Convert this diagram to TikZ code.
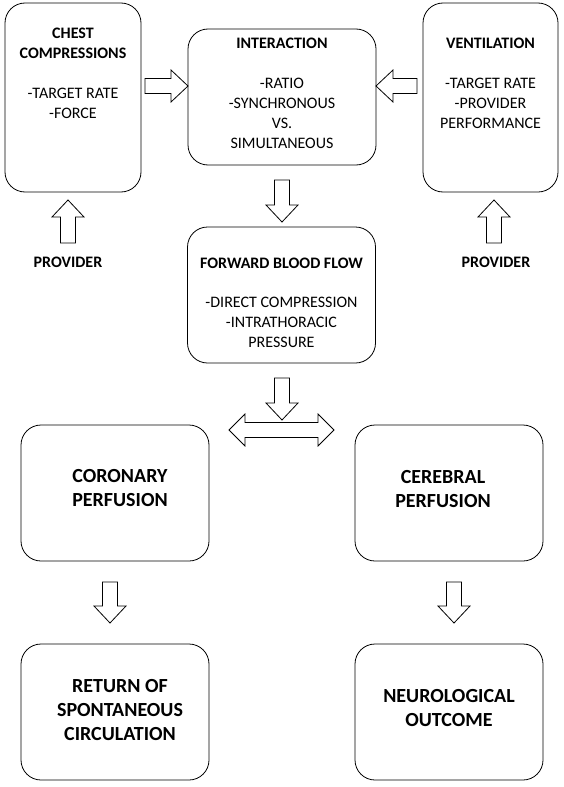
\documentclass[tikz,border=0pt]{standalone}
\usepackage{fontspec}
\setmainfont{Carlito}
\usetikzlibrary{positioning}

\begin{document}
\begin{tikzpicture}[x=1pt, y=1pt, line width=0.8pt,
        stagebox/.style={draw, rounded corners=20pt, inner sep=0pt, minimum width=188pt, minimum height=136pt},
        smalltext/.style={anchor=north, inner sep=0pt, align=center, font=\fontsize{16}{20}\selectfont},
        bigtext/.style={anchor=north, inner sep=0pt, align=center, font=\fontsize{20}{24}\selectfont\bfseries},
        pics/blockarrow/.style={code={
            \draw (0,-7.5) -- (#1-17,-7.5) -- (#1-17,-16) -- (#1,0)
                -- (#1-17,16) -- (#1-17,7.5) -- (0,7.5) -- cycle;}}]

        \useasboundingbox (0,0) rectangle (563,-787);

        % top row
        \node[stagebox, minimum width=136pt, minimum height=189pt] (chest) at (73,-97.5) {};
        \node[smalltext] (chestT) at ([yshift=-25pt]chest.north)
            {\textbf{CHEST}\\\textbf{COMPRESSIONS}\\[20pt]-TARGET RATE\\-FORCE};

        \node[stagebox] (inter) at (282,-97) {};
        \node[smalltext] (interT) at ([yshift=-9pt]inter.north)
            {\textbf{INTERACTION}\\[20pt]-RATIO\\-SYNCHRONOUS\\VS.\\SIMULTANEOUS};

        \node[stagebox, minimum width=135pt, minimum height=189pt] (vent) at (490.5,-97.5) {};
        \node[smalltext] (ventT) at ([yshift=-35pt]vent.north)
            {\textbf{VENTILATION}\\[20pt]-TARGET RATE\\-PROVIDER\\PERFORMANCE};

        % providers
        \node[font=\fontsize{16}{20}\selectfont\bfseries, inner sep=0pt] (provL) at (68,-262) {PROVIDER};
        \node[font=\fontsize{16}{20}\selectfont\bfseries, inner sep=0pt] (provR) at (496,-262) {PROVIDER};

        % forward blood flow
        \node[stagebox] (flow) at (281.5,-295) {};
        \node[smalltext] (flowT) at ([yshift=-31pt]flow.north)
            {\textbf{FORWARD BLOOD FLOW}\\[19pt]-DIRECT COMPRESSION\\-INTRATHORACIC\\PRESSURE};

        % perfusion
        \node[stagebox] (coro) at (115,-493) {};
        \node[bigtext] (coroT) at ([xshift=5pt, yshift=-44pt]coro.north) {CORONARY\\PERFUSION};

        \node[stagebox] (cere) at (449,-493) {};
        \node[bigtext] (cereT) at ([xshift=-6pt, yshift=-45pt]cere.north) {CEREBRAL\\PERFUSION};

        % outcomes
        \node[stagebox] (rosc) at (115,-712) {};
        \node[bigtext] (roscT) at ([xshift=5pt, yshift=-35pt]rosc.north) {RETURN OF\\SPONTANEOUS\\CIRCULATION};

        \node[stagebox] (neuro) at (449,-712) {};
        \node[bigtext] (neuroT) at ([yshift=-45pt]neuro.north) {NEUROLOGICAL\\OUTCOME};

        % block arrows
        \pic at (145,-86) {blockarrow=43};
        \pic[rotate=180] at (417,-86) {blockarrow=41};
        \pic[rotate=90] at (68,-243) {blockarrow=43};
        \pic[rotate=90] at (494,-243) {blockarrow=43};
        \pic[rotate=-90] at (282,-180) {blockarrow=42};
        \pic[rotate=-90] at (282,-378) {blockarrow=42};
        \pic[rotate=-90] at (110,-582) {blockarrow=41};
        \pic[rotate=-90] at (454,-582) {blockarrow=41};

        % split to both perfusions
        \draw (229,-430) -- (245,-414) -- (245,-422.5) -- (318,-422.5) -- (318,-414)
            -- (334,-430) -- (318,-446) -- (318,-437.5) -- (245,-437.5) -- (245,-446) -- cycle;

    \end{tikzpicture}
\end{document}
